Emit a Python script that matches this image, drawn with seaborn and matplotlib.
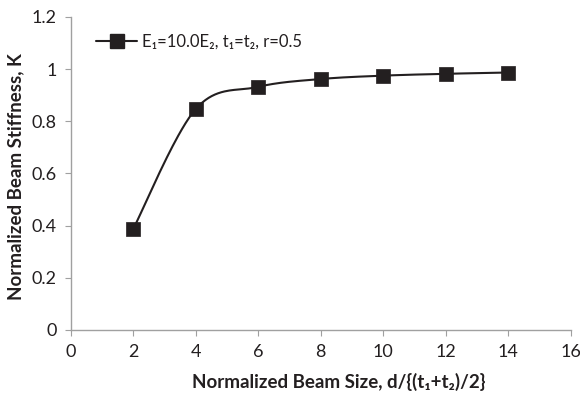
import numpy as np
import pandas as pd
import matplotlib
matplotlib.use("Agg")
import matplotlib.pyplot as plt
import seaborn as sns
from matplotlib.lines import Line2D

x_vals = [2, 4, 6, 8, 10, 12, 14]
k_vals = [0.387, 0.847, 0.932, 0.962, 0.975, 0.982, 0.987]
series_label = "E\u2081=10.0E\u2082, t\u2081=t\u2082, r=0.5"
x_ticks = [0, 2, 4, 6, 8, 10, 12, 14, 16]
y_ticks = [0, 0.2, 0.4, 0.6, 0.8, 1, 1.2]
y_tick_labels = ["0", "0.2", "0.4", "0.6", "0.8", "1", "1.2"]

sns.set_style("white")
plt.rcParams['font.family'] = ['Lato', 'DejaVu Sans']

df = pd.DataFrame({"x": x_vals, "k": k_vals})

def smooth_curve(xs, ys, n=40):
    xs = np.asarray(xs, float); ys = np.asarray(ys, float)
    px, py = [], []
    m = len(xs)
    for i in range(m - 1):
        x0, y0 = (xs[i - 1], ys[i - 1]) if i > 0 else (xs[i], ys[i])
        x1, y1 = xs[i], ys[i]
        x2, y2 = xs[i + 1], ys[i + 1]
        x3, y3 = (xs[i + 2], ys[i + 2]) if i + 2 < m else (x2, y2)
        c1x, c1y = x1 + (x2 - x0) / 6, y1 + (y2 - y0) / 6
        c2x, c2y = x2 - (x3 - x1) / 6, y2 - (y3 - y1) / 6
        t = np.linspace(0, 1, n)
        bx = (1-t)**3*x1 + 3*(1-t)**2*t*c1x + 3*(1-t)*t**2*c2x + t**3*x2
        by = (1-t)**3*y1 + 3*(1-t)**2*t*c1y + 3*(1-t)*t**2*c2y + t**3*y2
        px.extend(bx); py.extend(by)
    return np.array(px), np.array(py)

fig = plt.figure(figsize=(5.8, 3.95), dpi=100)
ax = fig.add_axes([0.122, 0.165, 0.862, 0.792])

sx, sy = smooth_curve(x_vals, k_vals)
ax.plot(sx, sy, color="#231f20", lw=1.5, zorder=2)
sns.scatterplot(data=df, x="x", y="k", marker="s", s=110, color="#231f20",
                edgecolor="#231f20", linewidth=0.5, ax=ax, zorder=3, legend=False)

handle = Line2D([], [], color="#231f20", lw=1.5, marker="s", markersize=10)
leg = ax.legend([handle], [series_label], loc="upper left", bbox_to_anchor=(0.02, 0.995),
                frameon=False, fontsize=12, handlelength=2.5, handletextpad=0.3,
                labelcolor="#231f20")

ax.set_xlim(0, 16)
ax.set_ylim(0, 1.2)
ax.set_xticks(x_ticks)
ax.set_yticks(y_ticks)
ax.set_yticklabels(y_tick_labels)
ax.tick_params(axis="both", labelsize=13, labelcolor="#231f20", length=4, direction="out",
               color="#a0a0a0", bottom=True, left=True)
ax.tick_params(axis="y", pad=6)
ax.tick_params(axis="x", pad=6)
for s in ["top", "right"]:
    ax.spines[s].set_visible(False)
for s in ["left", "bottom"]:
    ax.spines[s].set_color("#a0a0a0")
    ax.spines[s].set_linewidth(1.0)

ax.set_xlabel("Normalized Beam Size, d/{(t\u2081+t\u2082)/2}", fontsize=13.5, fontweight="bold",
              color="#231f20")
ax.set_ylabel("Normalized Beam Stiffness, K", fontsize=13.5, fontweight="bold",
              color="#231f20")
ax.xaxis.set_label_coords(0.536, -0.138)
ax.yaxis.set_label_coords(-0.094, 0.49)

fig.savefig("out.png", dpi=100)
